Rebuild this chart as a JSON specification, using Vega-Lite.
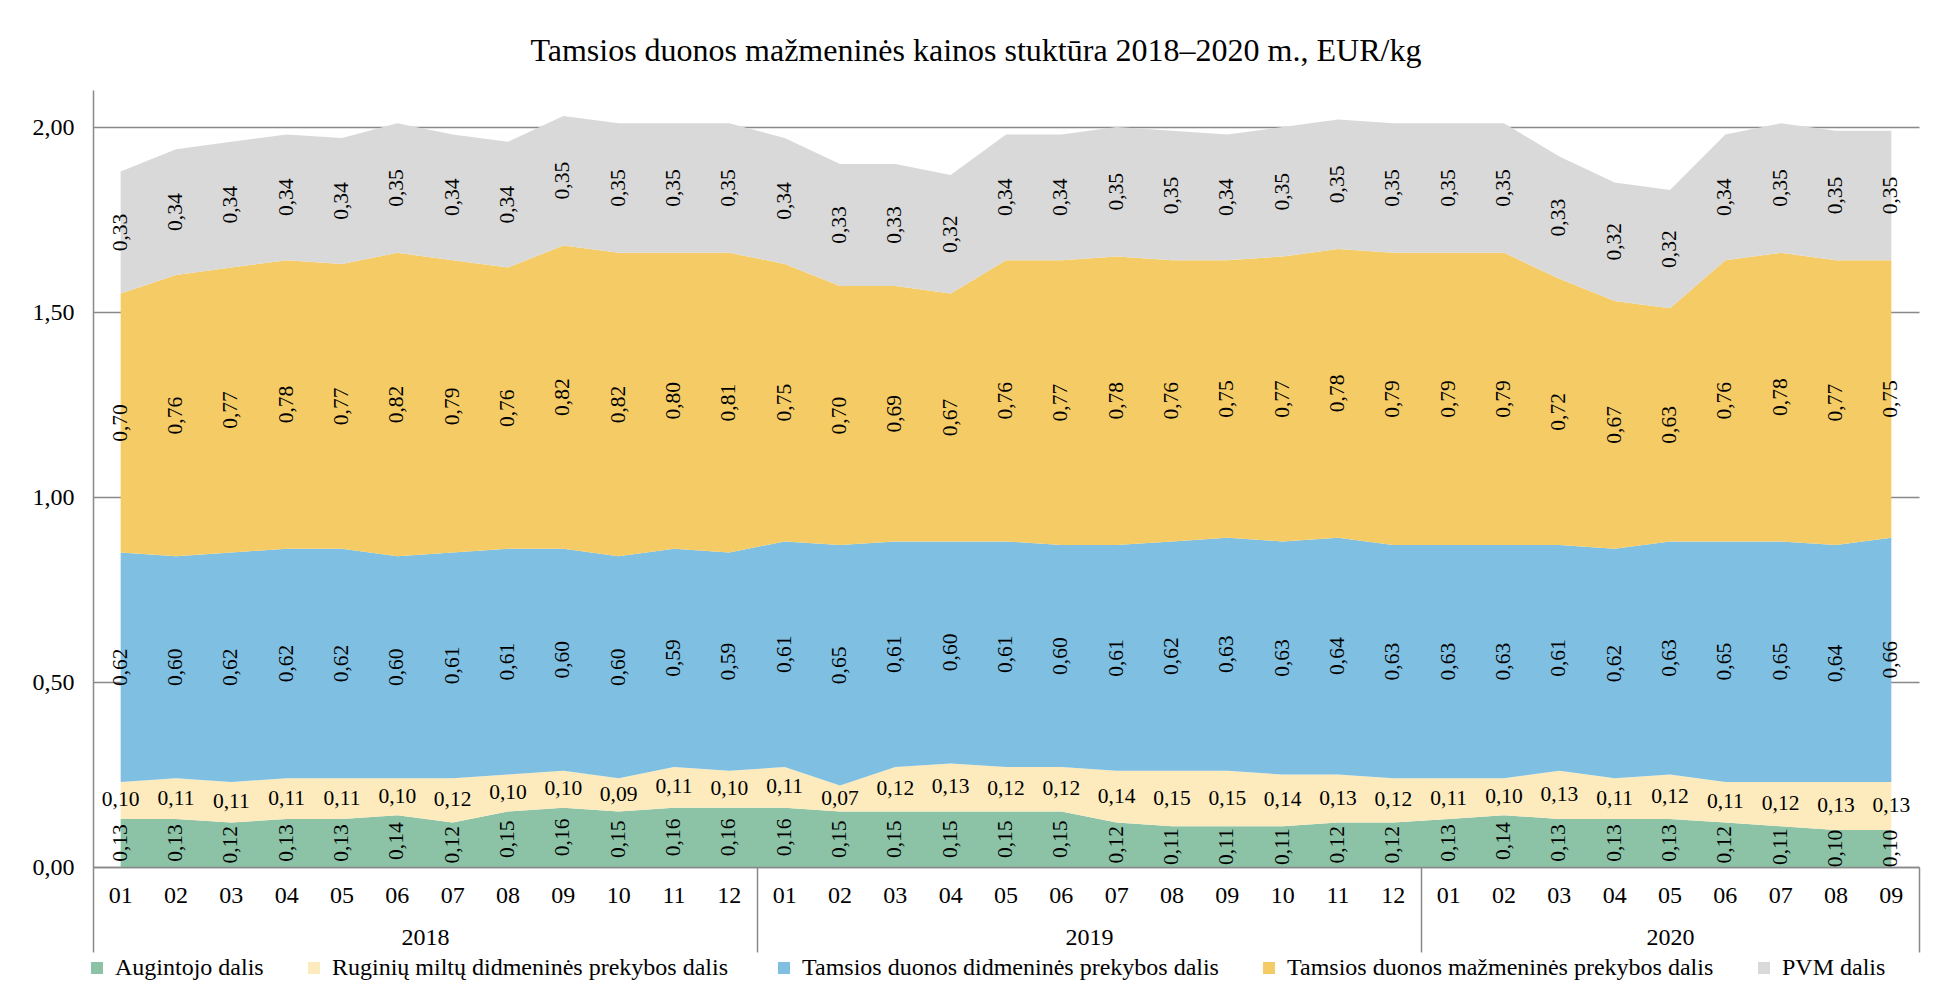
{
  "$schema": "https://vega.github.io/schema/vega-lite/v6.json",
  "width": 1826,
  "height": 777,
  "autosize": {"type": "none"},
  "padding": {"left": 93, "top": 90, "right": 20, "bottom": 135},
  "background": "white",
  "title": {
    "text": "Tamsios duonos mažmeninės kainos stuktūra 2018–2020 m., EUR/kg",
    "font": "Liberation Serif",
    "fontSize": 32,
    "fontWeight": "normal",
    "color": "black",
    "anchor": "middle",
    "frame": "bounds",
    "offset": 22
  },
  "config": {
    "locale": {"number": {"decimal": ",", "thousands": " ", "grouping": [3], "currency": ["", " €"]}},
    "view": {"stroke": null},
    "font": "Liberation Serif",
    "axis": {"labelFont": "Liberation Serif", "labelColor": "black", "labelFontSize": 24}
  },
  "datasets": {
    "prices": [
      {"period":"2018-01","series":"Augintojo dalis","order":1,"value":0.13},
      {"period":"2018-01","series":"Ruginių miltų didmeninės  prekybos dalis","order":2,"value":0.10},
      {"period":"2018-01","series":"Tamsios duonos didmeninės prekybos dalis","order":3,"value":0.62},
      {"period":"2018-01","series":"Tamsios duonos mažmeninės prekybos dalis","order":4,"value":0.70},
      {"period":"2018-01","series":"PVM dalis","order":5,"value":0.33},
      {"period":"2018-02","series":"Augintojo dalis","order":1,"value":0.13},
      {"period":"2018-02","series":"Ruginių miltų didmeninės  prekybos dalis","order":2,"value":0.11},
      {"period":"2018-02","series":"Tamsios duonos didmeninės prekybos dalis","order":3,"value":0.60},
      {"period":"2018-02","series":"Tamsios duonos mažmeninės prekybos dalis","order":4,"value":0.76},
      {"period":"2018-02","series":"PVM dalis","order":5,"value":0.34},
      {"period":"2018-03","series":"Augintojo dalis","order":1,"value":0.12},
      {"period":"2018-03","series":"Ruginių miltų didmeninės  prekybos dalis","order":2,"value":0.11},
      {"period":"2018-03","series":"Tamsios duonos didmeninės prekybos dalis","order":3,"value":0.62},
      {"period":"2018-03","series":"Tamsios duonos mažmeninės prekybos dalis","order":4,"value":0.77},
      {"period":"2018-03","series":"PVM dalis","order":5,"value":0.34},
      {"period":"2018-04","series":"Augintojo dalis","order":1,"value":0.13},
      {"period":"2018-04","series":"Ruginių miltų didmeninės  prekybos dalis","order":2,"value":0.11},
      {"period":"2018-04","series":"Tamsios duonos didmeninės prekybos dalis","order":3,"value":0.62},
      {"period":"2018-04","series":"Tamsios duonos mažmeninės prekybos dalis","order":4,"value":0.78},
      {"period":"2018-04","series":"PVM dalis","order":5,"value":0.34},
      {"period":"2018-05","series":"Augintojo dalis","order":1,"value":0.13},
      {"period":"2018-05","series":"Ruginių miltų didmeninės  prekybos dalis","order":2,"value":0.11},
      {"period":"2018-05","series":"Tamsios duonos didmeninės prekybos dalis","order":3,"value":0.62},
      {"period":"2018-05","series":"Tamsios duonos mažmeninės prekybos dalis","order":4,"value":0.77},
      {"period":"2018-05","series":"PVM dalis","order":5,"value":0.34},
      {"period":"2018-06","series":"Augintojo dalis","order":1,"value":0.14},
      {"period":"2018-06","series":"Ruginių miltų didmeninės  prekybos dalis","order":2,"value":0.10},
      {"period":"2018-06","series":"Tamsios duonos didmeninės prekybos dalis","order":3,"value":0.60},
      {"period":"2018-06","series":"Tamsios duonos mažmeninės prekybos dalis","order":4,"value":0.82},
      {"period":"2018-06","series":"PVM dalis","order":5,"value":0.35},
      {"period":"2018-07","series":"Augintojo dalis","order":1,"value":0.12},
      {"period":"2018-07","series":"Ruginių miltų didmeninės  prekybos dalis","order":2,"value":0.12},
      {"period":"2018-07","series":"Tamsios duonos didmeninės prekybos dalis","order":3,"value":0.61},
      {"period":"2018-07","series":"Tamsios duonos mažmeninės prekybos dalis","order":4,"value":0.79},
      {"period":"2018-07","series":"PVM dalis","order":5,"value":0.34},
      {"period":"2018-08","series":"Augintojo dalis","order":1,"value":0.15},
      {"period":"2018-08","series":"Ruginių miltų didmeninės  prekybos dalis","order":2,"value":0.10},
      {"period":"2018-08","series":"Tamsios duonos didmeninės prekybos dalis","order":3,"value":0.61},
      {"period":"2018-08","series":"Tamsios duonos mažmeninės prekybos dalis","order":4,"value":0.76},
      {"period":"2018-08","series":"PVM dalis","order":5,"value":0.34},
      {"period":"2018-09","series":"Augintojo dalis","order":1,"value":0.16},
      {"period":"2018-09","series":"Ruginių miltų didmeninės  prekybos dalis","order":2,"value":0.10},
      {"period":"2018-09","series":"Tamsios duonos didmeninės prekybos dalis","order":3,"value":0.60},
      {"period":"2018-09","series":"Tamsios duonos mažmeninės prekybos dalis","order":4,"value":0.82},
      {"period":"2018-09","series":"PVM dalis","order":5,"value":0.35},
      {"period":"2018-10","series":"Augintojo dalis","order":1,"value":0.15},
      {"period":"2018-10","series":"Ruginių miltų didmeninės  prekybos dalis","order":2,"value":0.09},
      {"period":"2018-10","series":"Tamsios duonos didmeninės prekybos dalis","order":3,"value":0.60},
      {"period":"2018-10","series":"Tamsios duonos mažmeninės prekybos dalis","order":4,"value":0.82},
      {"period":"2018-10","series":"PVM dalis","order":5,"value":0.35},
      {"period":"2018-11","series":"Augintojo dalis","order":1,"value":0.16},
      {"period":"2018-11","series":"Ruginių miltų didmeninės  prekybos dalis","order":2,"value":0.11},
      {"period":"2018-11","series":"Tamsios duonos didmeninės prekybos dalis","order":3,"value":0.59},
      {"period":"2018-11","series":"Tamsios duonos mažmeninės prekybos dalis","order":4,"value":0.80},
      {"period":"2018-11","series":"PVM dalis","order":5,"value":0.35},
      {"period":"2018-12","series":"Augintojo dalis","order":1,"value":0.16},
      {"period":"2018-12","series":"Ruginių miltų didmeninės  prekybos dalis","order":2,"value":0.10},
      {"period":"2018-12","series":"Tamsios duonos didmeninės prekybos dalis","order":3,"value":0.59},
      {"period":"2018-12","series":"Tamsios duonos mažmeninės prekybos dalis","order":4,"value":0.81},
      {"period":"2018-12","series":"PVM dalis","order":5,"value":0.35},
      {"period":"2019-01","series":"Augintojo dalis","order":1,"value":0.16},
      {"period":"2019-01","series":"Ruginių miltų didmeninės  prekybos dalis","order":2,"value":0.11},
      {"period":"2019-01","series":"Tamsios duonos didmeninės prekybos dalis","order":3,"value":0.61},
      {"period":"2019-01","series":"Tamsios duonos mažmeninės prekybos dalis","order":4,"value":0.75},
      {"period":"2019-01","series":"PVM dalis","order":5,"value":0.34},
      {"period":"2019-02","series":"Augintojo dalis","order":1,"value":0.15},
      {"period":"2019-02","series":"Ruginių miltų didmeninės  prekybos dalis","order":2,"value":0.07},
      {"period":"2019-02","series":"Tamsios duonos didmeninės prekybos dalis","order":3,"value":0.65},
      {"period":"2019-02","series":"Tamsios duonos mažmeninės prekybos dalis","order":4,"value":0.70},
      {"period":"2019-02","series":"PVM dalis","order":5,"value":0.33},
      {"period":"2019-03","series":"Augintojo dalis","order":1,"value":0.15},
      {"period":"2019-03","series":"Ruginių miltų didmeninės  prekybos dalis","order":2,"value":0.12},
      {"period":"2019-03","series":"Tamsios duonos didmeninės prekybos dalis","order":3,"value":0.61},
      {"period":"2019-03","series":"Tamsios duonos mažmeninės prekybos dalis","order":4,"value":0.69},
      {"period":"2019-03","series":"PVM dalis","order":5,"value":0.33},
      {"period":"2019-04","series":"Augintojo dalis","order":1,"value":0.15},
      {"period":"2019-04","series":"Ruginių miltų didmeninės  prekybos dalis","order":2,"value":0.13},
      {"period":"2019-04","series":"Tamsios duonos didmeninės prekybos dalis","order":3,"value":0.60},
      {"period":"2019-04","series":"Tamsios duonos mažmeninės prekybos dalis","order":4,"value":0.67},
      {"period":"2019-04","series":"PVM dalis","order":5,"value":0.32},
      {"period":"2019-05","series":"Augintojo dalis","order":1,"value":0.15},
      {"period":"2019-05","series":"Ruginių miltų didmeninės  prekybos dalis","order":2,"value":0.12},
      {"period":"2019-05","series":"Tamsios duonos didmeninės prekybos dalis","order":3,"value":0.61},
      {"period":"2019-05","series":"Tamsios duonos mažmeninės prekybos dalis","order":4,"value":0.76},
      {"period":"2019-05","series":"PVM dalis","order":5,"value":0.34},
      {"period":"2019-06","series":"Augintojo dalis","order":1,"value":0.15},
      {"period":"2019-06","series":"Ruginių miltų didmeninės  prekybos dalis","order":2,"value":0.12},
      {"period":"2019-06","series":"Tamsios duonos didmeninės prekybos dalis","order":3,"value":0.60},
      {"period":"2019-06","series":"Tamsios duonos mažmeninės prekybos dalis","order":4,"value":0.77},
      {"period":"2019-06","series":"PVM dalis","order":5,"value":0.34},
      {"period":"2019-07","series":"Augintojo dalis","order":1,"value":0.12},
      {"period":"2019-07","series":"Ruginių miltų didmeninės  prekybos dalis","order":2,"value":0.14},
      {"period":"2019-07","series":"Tamsios duonos didmeninės prekybos dalis","order":3,"value":0.61},
      {"period":"2019-07","series":"Tamsios duonos mažmeninės prekybos dalis","order":4,"value":0.78},
      {"period":"2019-07","series":"PVM dalis","order":5,"value":0.35},
      {"period":"2019-08","series":"Augintojo dalis","order":1,"value":0.11},
      {"period":"2019-08","series":"Ruginių miltų didmeninės  prekybos dalis","order":2,"value":0.15},
      {"period":"2019-08","series":"Tamsios duonos didmeninės prekybos dalis","order":3,"value":0.62},
      {"period":"2019-08","series":"Tamsios duonos mažmeninės prekybos dalis","order":4,"value":0.76},
      {"period":"2019-08","series":"PVM dalis","order":5,"value":0.35},
      {"period":"2019-09","series":"Augintojo dalis","order":1,"value":0.11},
      {"period":"2019-09","series":"Ruginių miltų didmeninės  prekybos dalis","order":2,"value":0.15},
      {"period":"2019-09","series":"Tamsios duonos didmeninės prekybos dalis","order":3,"value":0.63},
      {"period":"2019-09","series":"Tamsios duonos mažmeninės prekybos dalis","order":4,"value":0.75},
      {"period":"2019-09","series":"PVM dalis","order":5,"value":0.34},
      {"period":"2019-10","series":"Augintojo dalis","order":1,"value":0.11},
      {"period":"2019-10","series":"Ruginių miltų didmeninės  prekybos dalis","order":2,"value":0.14},
      {"period":"2019-10","series":"Tamsios duonos didmeninės prekybos dalis","order":3,"value":0.63},
      {"period":"2019-10","series":"Tamsios duonos mažmeninės prekybos dalis","order":4,"value":0.77},
      {"period":"2019-10","series":"PVM dalis","order":5,"value":0.35},
      {"period":"2019-11","series":"Augintojo dalis","order":1,"value":0.12},
      {"period":"2019-11","series":"Ruginių miltų didmeninės  prekybos dalis","order":2,"value":0.13},
      {"period":"2019-11","series":"Tamsios duonos didmeninės prekybos dalis","order":3,"value":0.64},
      {"period":"2019-11","series":"Tamsios duonos mažmeninės prekybos dalis","order":4,"value":0.78},
      {"period":"2019-11","series":"PVM dalis","order":5,"value":0.35},
      {"period":"2019-12","series":"Augintojo dalis","order":1,"value":0.12},
      {"period":"2019-12","series":"Ruginių miltų didmeninės  prekybos dalis","order":2,"value":0.12},
      {"period":"2019-12","series":"Tamsios duonos didmeninės prekybos dalis","order":3,"value":0.63},
      {"period":"2019-12","series":"Tamsios duonos mažmeninės prekybos dalis","order":4,"value":0.79},
      {"period":"2019-12","series":"PVM dalis","order":5,"value":0.35},
      {"period":"2020-01","series":"Augintojo dalis","order":1,"value":0.13},
      {"period":"2020-01","series":"Ruginių miltų didmeninės  prekybos dalis","order":2,"value":0.11},
      {"period":"2020-01","series":"Tamsios duonos didmeninės prekybos dalis","order":3,"value":0.63},
      {"period":"2020-01","series":"Tamsios duonos mažmeninės prekybos dalis","order":4,"value":0.79},
      {"period":"2020-01","series":"PVM dalis","order":5,"value":0.35},
      {"period":"2020-02","series":"Augintojo dalis","order":1,"value":0.14},
      {"period":"2020-02","series":"Ruginių miltų didmeninės  prekybos dalis","order":2,"value":0.10},
      {"period":"2020-02","series":"Tamsios duonos didmeninės prekybos dalis","order":3,"value":0.63},
      {"period":"2020-02","series":"Tamsios duonos mažmeninės prekybos dalis","order":4,"value":0.79},
      {"period":"2020-02","series":"PVM dalis","order":5,"value":0.35},
      {"period":"2020-03","series":"Augintojo dalis","order":1,"value":0.13},
      {"period":"2020-03","series":"Ruginių miltų didmeninės  prekybos dalis","order":2,"value":0.13},
      {"period":"2020-03","series":"Tamsios duonos didmeninės prekybos dalis","order":3,"value":0.61},
      {"period":"2020-03","series":"Tamsios duonos mažmeninės prekybos dalis","order":4,"value":0.72},
      {"period":"2020-03","series":"PVM dalis","order":5,"value":0.33},
      {"period":"2020-04","series":"Augintojo dalis","order":1,"value":0.13},
      {"period":"2020-04","series":"Ruginių miltų didmeninės  prekybos dalis","order":2,"value":0.11},
      {"period":"2020-04","series":"Tamsios duonos didmeninės prekybos dalis","order":3,"value":0.62},
      {"period":"2020-04","series":"Tamsios duonos mažmeninės prekybos dalis","order":4,"value":0.67},
      {"period":"2020-04","series":"PVM dalis","order":5,"value":0.32},
      {"period":"2020-05","series":"Augintojo dalis","order":1,"value":0.13},
      {"period":"2020-05","series":"Ruginių miltų didmeninės  prekybos dalis","order":2,"value":0.12},
      {"period":"2020-05","series":"Tamsios duonos didmeninės prekybos dalis","order":3,"value":0.63},
      {"period":"2020-05","series":"Tamsios duonos mažmeninės prekybos dalis","order":4,"value":0.63},
      {"period":"2020-05","series":"PVM dalis","order":5,"value":0.32},
      {"period":"2020-06","series":"Augintojo dalis","order":1,"value":0.12},
      {"period":"2020-06","series":"Ruginių miltų didmeninės  prekybos dalis","order":2,"value":0.11},
      {"period":"2020-06","series":"Tamsios duonos didmeninės prekybos dalis","order":3,"value":0.65},
      {"period":"2020-06","series":"Tamsios duonos mažmeninės prekybos dalis","order":4,"value":0.76},
      {"period":"2020-06","series":"PVM dalis","order":5,"value":0.34},
      {"period":"2020-07","series":"Augintojo dalis","order":1,"value":0.11},
      {"period":"2020-07","series":"Ruginių miltų didmeninės  prekybos dalis","order":2,"value":0.12},
      {"period":"2020-07","series":"Tamsios duonos didmeninės prekybos dalis","order":3,"value":0.65},
      {"period":"2020-07","series":"Tamsios duonos mažmeninės prekybos dalis","order":4,"value":0.78},
      {"period":"2020-07","series":"PVM dalis","order":5,"value":0.35},
      {"period":"2020-08","series":"Augintojo dalis","order":1,"value":0.10},
      {"period":"2020-08","series":"Ruginių miltų didmeninės  prekybos dalis","order":2,"value":0.13},
      {"period":"2020-08","series":"Tamsios duonos didmeninės prekybos dalis","order":3,"value":0.64},
      {"period":"2020-08","series":"Tamsios duonos mažmeninės prekybos dalis","order":4,"value":0.77},
      {"period":"2020-08","series":"PVM dalis","order":5,"value":0.35},
      {"period":"2020-09","series":"Augintojo dalis","order":1,"value":0.10},
      {"period":"2020-09","series":"Ruginių miltų didmeninės  prekybos dalis","order":2,"value":0.13},
      {"period":"2020-09","series":"Tamsios duonos didmeninės prekybos dalis","order":3,"value":0.66},
      {"period":"2020-09","series":"Tamsios duonos mažmeninės prekybos dalis","order":4,"value":0.75},
      {"period":"2020-09","series":"PVM dalis","order":5,"value":0.35}
    ]
  },
  "data": {"name": "prices"},
  "transform": [
    {"stack": "value", "groupby": ["period"], "sort": [{"field": "order", "order": "ascending"}], "as": ["y0", "y1"], "offset": "zero"},
    {"calculate": "(datum.y0 + datum.y1) / 2", "as": "ymid"}
  ],
  "layer": [
    {
      "mark": {"type": "area", "interpolate": "linear"},
      "encoding": {
        "x": {
          "field": "period", "type": "ordinal", "bandPosition": 0.5,
          "scale": {"type": "band", "paddingInner": 0, "paddingOuter": 0},
          "axis": {
            "orient": "bottom", "title": null, "labelExpr": "substring(datum.label, 5)",
            "labelAngle": 0, "ticks": false, "domain": true, "domainColor": "#898989",
            "domainWidth": 1.5, "labelPadding": 16, "grid": false, "zindex": 1
          }
        },
        "y": {
          "field": "y1", "type": "quantitative",
          "scale": {"domain": [0, 2.1], "nice": false, "zero": true},
          "axis": {
            "title": null, "values": [0, 0.5, 1, 1.5, 2], "format": ".2f", "ticks": false,
            "domainColor": "#898989", "domainWidth": 1.5, "gridColor": "#898989", "gridWidth": 1.5,
            "labelPadding": 19
          }
        },
        "y2": {"field": "y0"},
        "color": {
          "field": "series", "type": "nominal",
          "scale": {
            "domain": ["Augintojo dalis", "Ruginių miltų didmeninės  prekybos dalis", "Tamsios duonos didmeninės prekybos dalis", "Tamsios duonos mažmeninės prekybos dalis", "PVM dalis"],
            "range": ["#8CC3A7", "#FDEBBE", "#7FBFE1", "#F5CB65", "#D9D9D9"]
          },
          "legend": {
            "orient": "none", "legendX": -8, "legendY": 866, "direction": "horizontal", "title": null,
            "symbolType": "square", "symbolSize": 144, "symbolStrokeWidth": 0,
            "labelFont": "Liberation Serif", "labelFontSize": 24, "labelColor": "black",
            "labelLimit": 1000, "columnPadding": 38, "labelOffset": 6, "padding": 0
          }
        }
      }
    },
    {
      "transform": [{"filter": "datum.order != 2"}],
      "mark": {"type": "text", "angle": 270, "align": "center", "baseline": "middle", "font": "Liberation Serif", "fontSize": 21.5, "color": "black"},
      "encoding": {
        "x": {
          "field": "period", "type": "ordinal", "bandPosition": 0.5,
          "axis": {
            "orient": "bottom", "title": null,
            "values": ["2018-01","2018-02","2018-03","2018-04","2018-05","2018-06","2018-07","2018-08","2018-09","2018-10","2018-11","2018-12","2019-01","2019-02","2019-03","2019-04","2019-05","2019-06","2019-07","2019-08","2019-09","2019-10","2019-11","2019-12","2020-01","2020-02","2020-03","2020-04","2020-05","2020-06","2020-07","2020-08","2020-09"],
            "tickBand": "extent", "ticks": true, "tickSize": 85, "tickColor": "#898989", "tickWidth": 1.5,
            "tickOpacity": {"condition": {"test": "datum.extra || datum.value == '2018-12' || datum.value == '2019-12' || datum.value == '2020-09'", "value": 1}, "value": 0},
            "domain": false, "grid": false, "labelAngle": 0,
            "labelExpr": "datum.value == '2018-06' ? '2018' : datum.value == '2019-06' ? '2019' : datum.value == '2020-05' ? '2020' : ''",
            "labelOffset": {"condition": {"test": "datum.value == '2020-05'", "value": 0}, "value": 27.67},
            "labelPadding": -27, "zindex": 1
          }
        },
        "y": {"field": "ymid", "type": "quantitative"},
        "text": {"field": "value", "type": "quantitative", "format": ".2f"}
      }
    },
    {
      "transform": [{"filter": "datum.order == 2"}],
      "mark": {"type": "text", "angle": 0, "align": "center", "baseline": "middle", "font": "Liberation Serif", "fontSize": 21.5, "color": "black"},
      "encoding": {
        "x": {"field": "period", "type": "ordinal", "bandPosition": 0.5, "axis": null},
        "y": {"field": "ymid", "type": "quantitative"},
        "text": {"field": "value", "type": "quantitative", "format": ".2f"}
      }
    }
  ],
  "resolve": {"axis": {"x": "independent"}}
}
